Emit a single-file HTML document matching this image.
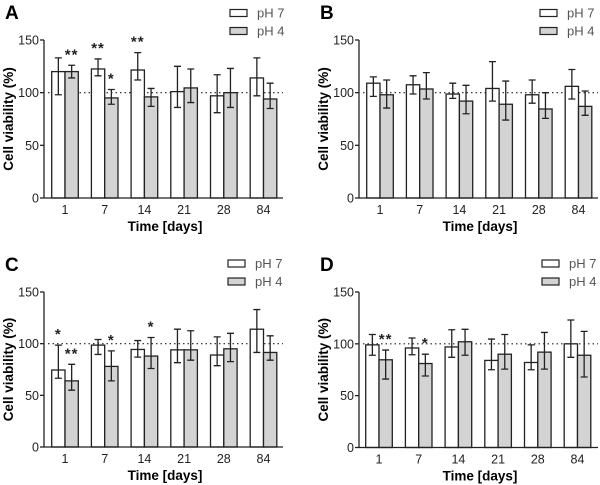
<!DOCTYPE html>
<html><head><meta charset="utf-8"><style>
body{margin:0;background:#fff}
svg{display:block;font-family:"Liberation Sans",Arial,sans-serif}
</style></head><body>
<svg id="fig" width="600" height="485" viewBox="0 0 600 485"></svg>
<script>
const categories=["1","7","14","21","28","84"];
const yTicks=[0,50,100,150];
// Panel A
const aPh7=[120,122.5,121.5,101,97,114];
const aPh7Hi=[133,132,138,125,117,133];
const aPh7Lo=[98,116,112,86,81,97];
const aPh4=[120,95,96,104.5,100,94];
const aPh4Hi=[126,103,104,122.5,123,109];
const aPh4Lo=[114,89,87,90.6,86,85];
const aStar7=["","**","**","","",""];
const aStar4=["**","*","","","",""];
// Panel B
const bPh7=[109,107.5,98.7,104,98,106];
const bPh7Hi=[115,116,109,129.5,112,122];
const bPh7Lo=[96.5,98.7,94.6,92,90,94];
const bPh4=[98,103.5,92,89,84.5,87];
const bPh4Hi=[112,119,107,111,100,101.6];
const bPh4Lo=[85.4,94,80,74,75.6,78.5];
const bStar7=["","","","","",""];
const bStar4=["","","","","",""];
// Panel C
const cPh7=[74.5,98.6,94.4,94,89,114];
const cPh7Hi=[98.6,104,103,114,106.6,133];
const cPh7Lo=[66.5,89.6,87,81.6,78.7,91.5];
const cPh4=[64,78,88,94,95,91.5];
const cPh4Hi=[80,93,106,112.5,110,107.6];
const cPh4Lo=[55,64,76,84,82.6,84];
const cStar7=["*","","","","",""];
const cStar4=["**","*","*","","",""];
// Panel D
const dPh7=[99,96,97,84,82,100];
const dPh7Hi=[109,105.6,113.6,104.6,99,123];
const dPh7Lo=[89,89.5,87,75,75,87];
const dPh4=[84.6,81,102,90,92,89];
const dPh4Hi=[94,90,114,109,111,112];
const dPh4Lo=[66,69,89,75.6,75.6,68];
const dStar7=["","","","","",""];
const dStar4=["**","*","","","",""];

const NS="http://www.w3.org/2000/svg";
const svg=document.getElementById('fig');
function mk(tag,attrs,parent,text){const e=document.createElementNS(NS,tag);for(const k in attrs)e.setAttribute(k,attrs[k]);if(text!==undefined)e.textContent=text;(parent||svg).appendChild(e);return e;}

function panel(p){
  const g=mk('g',{});
  
  
  const yS=v=>p.y0-(p.y0-p.y150)*v/150;
  const xS=i=>p.x0+21+i*39.7;
  const bw=13.3;
  const lab=mk('text',{x:p.ax-39,y:p.y150-21,'font-size':19,'font-weight':'bold'},g,p.id);
  
  
  const ya=mk('line',{x1:p.ax,x2:p.ax,y1:p.y150,y2:p.y0,stroke:'#222','stroke-width':1.3},g);
  
  
  yTicks.forEach(t=>{
    mk('line',{x1:p.ax-4,x2:p.ax,y1:yS(t),y2:yS(t),stroke:'#222','stroke-width':1.3},g);
    const tl=mk('text',{x:p.ax-5,y:yS(t)+4.5,'font-size':12.5,'text-anchor':'end',fill:'#222'},g,String(t));
    
    
  });
  const yt=mk('text',{x:0,y:0,'font-size':13.5,'font-weight':'bold','text-anchor':'middle',transform:`translate(${p.ax-31},${yS(75)}) rotate(-90)`},g,'Cell viability (%)');
  
  
  const rl=mk('line',{x1:p.ax+4,x2:p.ax+239,y1:yS(100),y2:yS(100),stroke:'#222','stroke-width':1.2,'stroke-dasharray':'1.5,3'},g);
  
  
  const series=[[p.v7,p.h7,p.l7,p.s7,'#fff',-bw,'ph7'],[p.v4,p.h4,p.l4,p.s4,'#d3d3d3',0,'ph4']];
  categories.forEach((c,i)=>{
    series.forEach(s=>{
      const x=xS(i)+s[5];
      const r=mk('rect',{x:x,y:yS(s[0][i]),width:bw,height:yS(0)-yS(s[0][i]),fill:s[4],stroke:'#222','stroke-width':1.3},g);
      
      
      const cx=x+bw/2;
      const eb=mk('path',{d:`M${cx},${yS(s[1][i])}V${yS(s[2][i])}M${cx-3.5},${yS(s[1][i])}H${cx+3.5}M${cx-3.5},${yS(s[2][i])}H${cx+3.5}`,stroke:'#222','stroke-width':1.3,fill:'none'},g);
      
      
      if(s[3][i]){
        const st=mk('text',{x:cx,y:yS(s[1][i])-6,'font-size':15,'font-weight':'bold','text-anchor':'middle','letter-spacing':'1',fill:'#222'},g,s[3][i]);
        
        
      }
    });
    const xl=mk('text',{x:xS(i),y:p.y0+16,'font-size':12.5,'text-anchor':'middle',fill:'#222'},g,c);
    
    
  });
  const xa=mk('line',{x1:p.ax,x2:p.ax+239,y1:p.y0,y2:p.y0,stroke:'#222','stroke-width':1.3},g);
  
  
  const xt=mk('text',{x:p.ax+121,y:p.y0+33,'font-size':13.5,'font-weight':'bold','text-anchor':'middle'},g,'Time [days]');
  
  
  [['pH 7','#fff',0],['pH 4','#d3d3d3',18]].forEach(l=>{
    const lr=mk('rect',{x:p.lx,y:p.ly+l[2],width:17,height:7,fill:l[1],stroke:'#222','stroke-width':1.2},g);
    
    
    const lt=mk('text',{x:p.lx+27,y:p.ly+l[2]+8,'font-size':13,fill:'#555'},g,l[0]);
    
    
  });
}
panel({id:'A',ax:44,x0:44,y150:40,y0:198,lx:230,ly:9.5,v7:aPh7,h7:aPh7Hi,l7:aPh7Lo,s7:aStar7,v4:aPh4,h4:aPh4Hi,l4:aPh4Lo,s4:aStar4});
panel({id:'B',ax:359,x0:359,y150:40,y0:198,lx:540,ly:9.5,v7:bPh7,h7:bPh7Hi,l7:bPh7Lo,s7:bStar7,v4:bPh4,h4:bPh4Hi,l4:bPh4Lo,s4:bStar4});
panel({id:'C',ax:44,x0:44,y150:292,y0:447,lx:228,ly:260,v7:cPh7,h7:cPh7Hi,l7:cPh7Lo,s7:cStar7,v4:cPh4,h4:cPh4Hi,l4:cPh4Lo,s4:cStar4});
panel({id:'D',ax:359,x0:358,y150:292,y0:447.5,lx:542,ly:260,v7:dPh7,h7:dPh7Hi,l7:dPh7Lo,s7:dStar7,v4:dPh4,h4:dPh4Hi,l4:dPh4Lo,s4:dStar4});
</script>
</body></html>
